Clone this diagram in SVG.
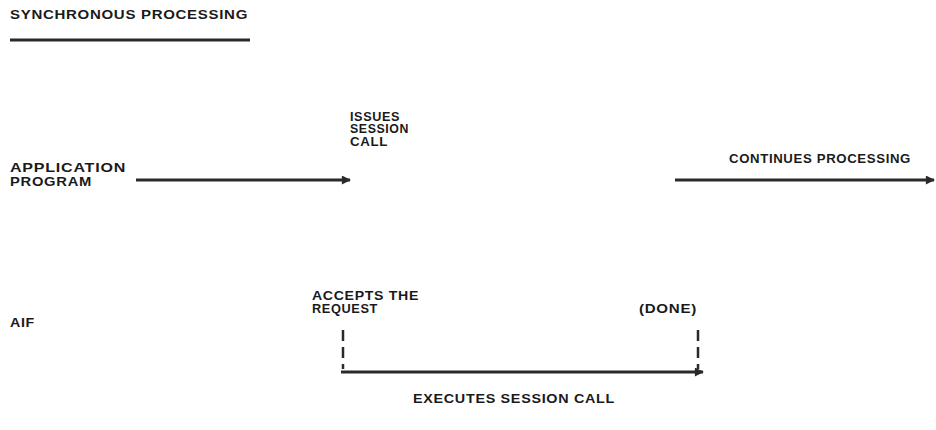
<svg xmlns="http://www.w3.org/2000/svg" width="936" height="430" viewBox="0 0 936 430">
<style>
text{font-family:"Liberation Sans",Arial,sans-serif;font-size:12.5px;font-weight:bold;fill:#1a1a1a;letter-spacing:0.6px}
.ln{stroke:#2a2a2a;stroke-width:3;fill:none}
.dash{stroke:#2a2a2a;stroke-width:2.5;fill:none;stroke-dasharray:11 6}
</style>
<defs>
<marker id="ah" viewBox="0 0 10 10" refX="9" refY="5" markerWidth="5" markerHeight="3" markerUnits="strokeWidth" orient="auto">
<path d="M0,0 L10,5 L0,10 z" fill="#2a2a2a"/>
</marker>
</defs>
<rect width="936" height="430" fill="#fff"/>
<g id="title">
<text x="10" y="19" style="font-size:13px" textLength="238" lengthAdjust="spacingAndGlyphs">SYNCHRONOUS PROCESSING</text>
<line class="ln" x1="10" y1="40" x2="250" y2="40"/>
</g>
<g id="app">
<text x="10" y="172" textLength="116" lengthAdjust="spacingAndGlyphs">APPLICATION</text>
<text x="10" y="186" textLength="82" lengthAdjust="spacingAndGlyphs">PROGRAM</text>
</g>
<g id="issues">
<text x="350" y="120.5" textLength="50" lengthAdjust="spacingAndGlyphs">ISSUES</text>
<text x="350" y="133" textLength="59" lengthAdjust="spacingAndGlyphs">SESSION</text>
<text x="350" y="145.5" textLength="38" lengthAdjust="spacingAndGlyphs">CALL</text>
</g>
<g id="continues">
<text x="729" y="163" textLength="182" lengthAdjust="spacingAndGlyphs">CONTINUES PROCESSING</text>
</g>
<g id="aif">
<text x="10" y="327" textLength="25" lengthAdjust="spacingAndGlyphs">AIF</text>
</g>
<g id="accepts">
<text x="312" y="300" textLength="107" lengthAdjust="spacingAndGlyphs">ACCEPTS THE</text>
<text x="312" y="313" textLength="66" lengthAdjust="spacingAndGlyphs">REQUEST</text>
</g>
<g id="done">
<text x="639" y="313" textLength="58" lengthAdjust="spacingAndGlyphs">(DONE)</text>
</g>
<g id="executes">
<text x="413" y="403" textLength="202" lengthAdjust="spacingAndGlyphs">EXECUTES SESSION CALL</text>
</g>
<g id="connectors">
<line class="ln" x1="136" y1="180" x2="350" y2="180" marker-end="url(#ah)"/>
<line class="ln" x1="675" y1="180" x2="934" y2="180" marker-end="url(#ah)"/>
<line class="dash" x1="343" y1="330" x2="343" y2="369"/>
<line class="dash" x1="698" y1="330" x2="698" y2="369"/>
<line class="ln" x1="341" y1="372" x2="703" y2="372" marker-end="url(#ah)"/>
</g>
</svg>
